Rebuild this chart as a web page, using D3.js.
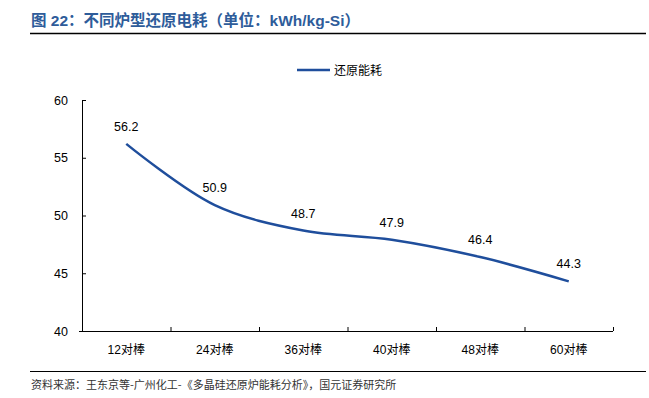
<!DOCTYPE html>
<html><head><meta charset="utf-8">
<script src="https://cdn.jsdelivr.net/npm/d3@7/dist/d3.min.js"></script>
<style>body{margin:0;background:#fff}svg{display:block}</style>
</head><body>
<svg id="c" width="649" height="398"></svg>
<script>
const categories = ["12对棒","24对棒","36对棒","40对棒","48对棒","60对棒"];
const values = [56.2,50.9,48.7,47.9,46.4,44.3];
const yTicks = [40,45,50,55,60];
const seriesName = "还原能耗";
const titleText = "图 22：不同炉型还原电耗（单位：kWh/kg-Si）";
const sourceText = "资料来源：王东京等-广州化工-《多晶硅还原炉能耗分析》，国元证券研究所";

(function(){
const svg = d3.select("#c");
const font = "'Liberation Sans', Arial, 'Noto Sans CJK SC', sans-serif";
const cjk = "'Noto Sans CJK SC', sans-serif";
const blue = "#1f4e9c";
const titleBlue = "#2e5c9a";

svg.append("text").attr("x",31).attr("y",26).attr("font-family",font)
  .attr("font-size",15.5).attr("font-weight","bold").attr("fill",titleBlue).text(titleText);
svg.append("line").attr("x1",30).attr("x2",646).attr("y1",33.5).attr("y2",33.5)
  .attr("stroke","#000").attr("stroke-width",1.5);

const pl=82, pr=613, pt=100, pb=331;
const x = d3.scaleBand().domain(categories).range([pl,pr]);
const y = d3.scaleLinear().domain([40,60]).range([pb,pt]);

const yAxis = svg.append("g").attr("transform",`translate(${pl},0)`)
  .call(d3.axisLeft(y).tickValues(yTicks).tickSize(-4).tickPadding(14).tickFormat(d3.format("d")));
yAxis.selectAll("text").attr("font-family",font).attr("font-size",12.5).attr("fill","#000");
yAxis.selectAll("line,path").attr("stroke","#000");

const xAxis = svg.append("g").attr("transform",`translate(0,${pb})`)
  .call(d3.axisBottom(x).tickSize(0).tickPadding(14));
xAxis.selectAll("text").attr("font-family",font).attr("font-size",12).attr("fill","#000");
xAxis.select("path").attr("stroke","#000").attr("d",`M${pl-3},0.5H${pr}`);
const bounds = categories.map(c=>x(c)+x.bandwidth());
svg.append("g").selectAll("line").data(bounds).join("line")
  .attr("x1",d=>d+0.5).attr("x2",d=>d+0.5).attr("y1",pb-4).attr("y2",pb)
  .attr("stroke","#000");

const pts = values.map((v,i)=>[x(categories[i])+x.bandwidth()/2, y(v)]);
svg.append("path").attr("d", d3.line().curve(d3.curveCatmullRom.alpha(0.5))(pts))
  .attr("fill","none").attr("stroke",blue).attr("stroke-width",2.5);

svg.append("g").selectAll("text").data(values).join("text")
  .attr("x",(d,i)=>pts[i][0]).attr("y",(d,i)=>pts[i][1]-13)
  .attr("text-anchor","middle").attr("font-family",font).attr("font-size",12.5).attr("fill","#000")
  .text(d=>d.toFixed(1));

svg.append("line").attr("x1",297).attr("x2",330).attr("y1",70).attr("y2",70)
  .attr("stroke",blue).attr("stroke-width",2.5);
svg.append("text").attr("x",334).attr("y",74.5).attr("font-family",cjk).attr("font-size",12)
  .attr("fill","#000").text(seriesName);

svg.append("line").attr("x1",30).attr("x2",646).attr("y1",371.5).attr("y2",371.5)
  .attr("stroke","#000").attr("stroke-width",1.2);
svg.append("text").attr("x",31).attr("y",389).attr("font-family",cjk).attr("font-size",11)
  .attr("fill","#333").text(sourceText);
})();
</script>
</body></html>
